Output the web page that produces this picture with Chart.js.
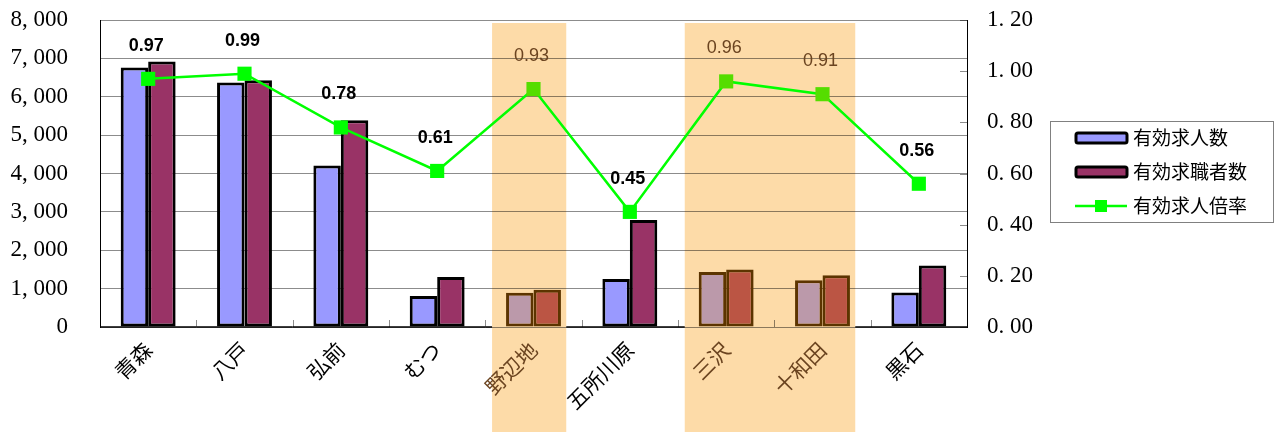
<!DOCTYPE html>
<html>
<head>
<meta charset="utf-8">
<script src="https://cdn.jsdelivr.net/npm/chart.js@4"></script>
<style>
  html, body { margin: 0; padding: 0; background: #fff; }
  #wrap { width: 1278px; height: 432px; }
</style>
</head>
<body>
<div id="wrap"><canvas id="jobChart" width="1278" height="432"></canvas></div>
<script>
// data
const cities = ['青森', '八戸', '弘前', 'むつ', '野辺地', '五所川原', '三沢', '十和田', '黒石'];
const openings = [6760, 6370, 4210, 810, 890, 1250, 1430, 1220, 900];
const seekers = [6920, 6430, 5390, 1300, 970, 2790, 1500, 1350, 1600];
const ratio = [0.97, 0.99, 0.78, 0.61, 0.93, 0.45, 0.96, 0.91, 0.56];
const shaded = [false, false, false, false, true, false, true, true, false];
const seriesNames = ['有効求人数', '有効求職者数', '有効求人倍率'];

const BAND = '#FDDBA8';
const BROWN = '#6B4420';

const pick = (a, b) => shaded.map(s => (s ? b : a));

// orange bands behind the highlighted cities
const bandPlugin = {
  id: 'bands',
  beforeDraw(chart) {
    const { ctx, chartArea, scales: { x } } = chart;
    const w = (chart.chartArea.right - chart.chartArea.left) / cities.length;
    ctx.save();
    ctx.fillStyle = BAND;
    let i = 0;
    while (i < shaded.length) {
      if (!shaded[i]) { i++; continue; }
      let j = i;
      while (j + 1 < shaded.length && shaded[j + 1]) j++;
      const l = x.getPixelForValue(i) - 0.43 * w;
      const r = x.getPixelForValue(j) + 0.34 * w;
      ctx.fillRect(l, chartArea.top + 3, r - l, chart.height - chartArea.top - 3);
      i = j + 1;
    }
    ctx.restore();
  },
  beforeDatasetsDraw(chart) {
    const { ctx, chartArea, scales: { x, y1 } } = chart;
    const w = (chartArea.right - chartArea.left) / cities.length;
    ctx.save();
    // x axis line, hidden under the bands
    ctx.strokeStyle = '#000';
    ctx.lineWidth = 1.5;
    for (let i = 0; i < cities.length; i++) {
      let l = x.getPixelForValue(i) - w / 2;
      let r = x.getPixelForValue(i) + w / 2;
      if (shaded[i]) {
        if (!shaded[i - 1]) { r = x.getPixelForValue(i) - 0.43 * w; }
        else continue;
        if (r <= l) continue;
      }
      if (shaded[i + 1] && !shaded[i]) r = Math.min(r, x.getPixelForValue(i + 1) - 0.43 * w);
      if (shaded[i - 1] && !shaded[i]) l = x.getPixelForValue(i - 1) + 0.34 * w;
      ctx.beginPath();
      ctx.moveTo(l, chartArea.bottom);
      ctx.lineTo(r, chartArea.bottom);
      ctx.stroke();
    }
    // inward tick marks on the category axis
    ctx.strokeStyle = 'rgba(0,0,0,0.45)';
    ctx.lineWidth = 1;
    for (let i = 1; i < cities.length; i++) {
      const px = Math.round(x.getPixelForValue(i) - w / 2) + 0.5;
      ctx.beginPath();
      ctx.moveTo(px, chartArea.bottom);
      ctx.lineTo(px, chartArea.bottom - 7);
      ctx.stroke();
    }
    // inward tick marks on the right axis
    y1.ticks.forEach(t => {
      const py = Math.round(y1.getPixelForValue(t.value)) + 0.5;
      ctx.beginPath();
      ctx.moveTo(chartArea.right - 7, py);
      ctx.lineTo(chartArea.right, py);
      ctx.stroke();
    });
    ctx.restore();
  },
  afterDatasetsDraw(chart) {
    const { ctx } = chart;
    const meta = chart.getDatasetMeta(0);
    ctx.save();
    ctx.textAlign = 'center';
    ctx.textBaseline = 'middle';
    meta.data.forEach((pt, i) => {
      ctx.font = (shaded[i] ? '' : 'bold ') + '18px "Liberation Sans", Arial, sans-serif';
      ctx.fillStyle = shaded[i] ? BROWN : '#000';
      ctx.fillText(ratio[i].toFixed(2), pt.x - 2, pt.y - 33);
    });
    ctx.restore();
  },
  afterDraw(chart) {
    const { ctx } = chart;
    const ds = chart.data.datasets;
    ctx.save();
    ctx.strokeStyle = '#808080';
    ctx.lineWidth = 1;
    ctx.strokeRect(1050.5, 121.5, 223, 101);
    ctx.font = '19px "Noto Sans CJK JP", sans-serif';
    ctx.textBaseline = 'middle';
    ctx.textAlign = 'left';
    const rows = [138, 172, 206];
    // bar swatches
    [ds[1], ds[2]].forEach((d, k) => {
      const yy = rows[k];
      ctx.fillStyle = d.backgroundColor[0];
      ctx.strokeStyle = '#000';
      ctx.lineWidth = 3;
      ctx.beginPath();
      ctx.roundRect(1076, yy - 5, 51, 10, 2);
      ctx.fill();
      ctx.stroke();
      ctx.fillStyle = '#000';
      ctx.fillText(d.label, 1133, yy);
    });
    // line swatch
    const yy = rows[2];
    ctx.strokeStyle = ds[0].borderColor;
    ctx.lineWidth = 2.5;
    ctx.beginPath();
    ctx.moveTo(1075, yy);
    ctx.lineTo(1127, yy);
    ctx.stroke();
    ctx.fillStyle = '#00FF00';
    ctx.fillRect(1095, yy - 6, 12, 12);
    ctx.fillStyle = '#000';
    ctx.fillText(ds[0].label, 1133, yy);
    ctx.restore();
  }
};

const ctx = document.getElementById('jobChart');

const noPad = s => { s.paddingTop = 0; s.paddingBottom = 0; };

new Chart(ctx, {
  type: 'bar',
  data: {
    labels: cities,
    datasets: [
      {
        type: 'line',
        label: seriesNames[2],
        data: ratio,
        yAxisID: 'y1',
        order: 0,
        borderColor: '#00FF00',
        borderWidth: 2.5,
        tension: 0,
        pointStyle: 'rect',
        pointRadius: 10,
        pointHoverRadius: 10,
        pointBorderWidth: 0,
        pointBackgroundColor: pick('#00FF00', '#55DD00'),
        pointBorderColor: pick('#00FF00', '#55DD00'),
      },
      {
        label: seriesNames[0],
        data: openings,
        yAxisID: 'y',
        order: 1,
        backgroundColor: pick('#9999FF', '#BB99AA'),
        borderColor: pick('#000000', '#5C3400'),
        borderWidth: 3,
        borderSkipped: false,
        categoryPercentage: 0.57,
        barPercentage: 1,
      },
      {
        label: seriesNames[1],
        data: seekers,
        yAxisID: 'y',
        order: 1,
        backgroundColor: pick('#993366', '#BB5544'),
        borderColor: pick('#000000', '#5C3400'),
        borderWidth: 3,
        borderSkipped: false,
        categoryPercentage: 0.57,
        barPercentage: 1,
      },
    ],
  },
  options: {
    responsive: false,
    animation: false,
    layout: { padding: { top: 20, right: 231, left: 0, bottom: 0 } },
    plugins: {
      legend: { display: false },
      tooltip: { enabled: false },
    },
    scales: {
      x: {
        grid: { display: false },
        border: { display: false },
        afterFit: s => { s.height = 105; },
        ticks: {
          autoSkip: false,
          minRotation: 45,
          maxRotation: 45,
          padding: 2,
          color: c => (shaded[c.index] ? BROWN : '#000'),
          font: { family: '"Noto Sans CJK JP", sans-serif', size: 21 },
        },
      },
      y: {
        position: 'left',
        min: 0,
        max: 8000,
        afterFit: s => { s.width = 100; noPad(s); },
        grid: { color: 'rgba(0,0,0,0.45)', drawTicks: false },
        border: { display: true, color: '#000', width: 1 },
        ticks: {
          stepSize: 1000,
          padding: 32,
          color: '#000',
          font: { family: '"Liberation Serif", serif', size: 23 },
          callback: v => v.toLocaleString('en-US').replace(',', ', '),
        },
      },
      y1: {
        position: 'right',
        min: 0,
        max: 1.2,
        afterFit: s => { s.width = 80; noPad(s); },
        grid: { drawOnChartArea: false, drawTicks: false },
        border: { display: true, color: '#000', width: 1 },
        ticks: {
          stepSize: 0.2,
          padding: 20,
          color: '#000',
          font: { family: '"Liberation Serif", serif', size: 23 },
          callback: v => v.toFixed(2).replace('.', '. '),
        },
      },
    },
  },
  plugins: [bandPlugin],
});
</script>
</body>
</html>
